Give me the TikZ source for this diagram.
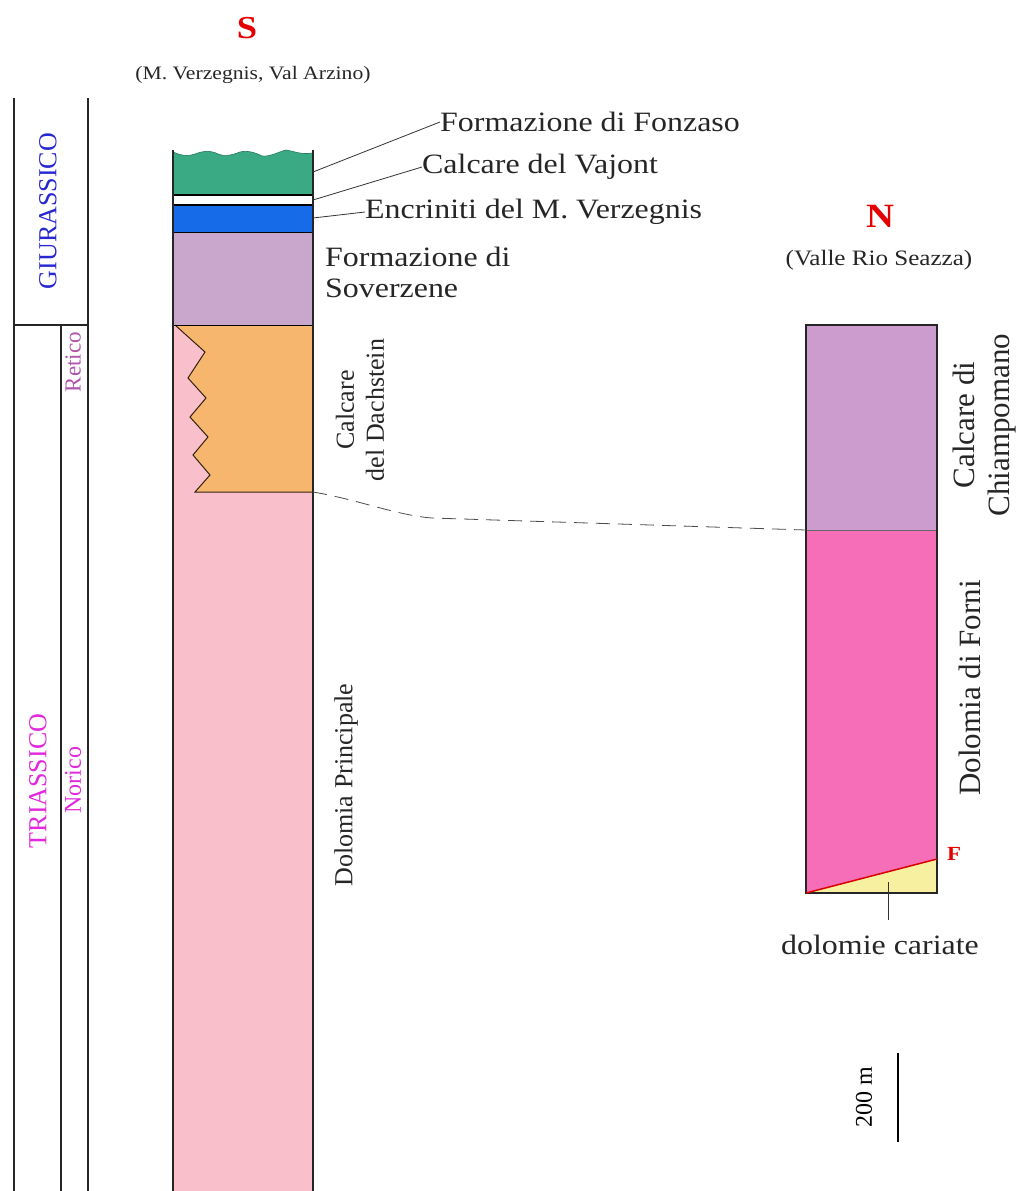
\documentclass[tikz,border=0pt]{standalone}
\usepackage{fontspec}
\setmainfont[FakeStretch=1.14]{Liberation Serif}
\newfontfamily\rotfont{Liberation Serif}
\begin{document}
\begin{tikzpicture}[x=1pt,y=-1pt,
  lab/.style={inner sep=0pt,font=\fontsize{28}{31}\selectfont,text=black!85},
  rlab/.style={inner sep=0pt,rotate=90,text=black!85},
  era/.style={inner sep=0pt,rotate=90},
  hdr/.style={inner sep=0pt,text=red!90!black},
  sub/.style={inner sep=0pt,font=\fontsize{19}{21}\selectfont,text=black!85},
  col/.style={line width=1.2pt,draw=black!85},
  lead/.style={line width=0.8pt,draw=black!80}]
\definecolor{cgreen}{RGB}{58,170,132}
\definecolor{cblue}{RGB}{22,108,232}
\definecolor{cmauve}{RGB}{201,166,203}
\definecolor{corange}{RGB}{247,182,110}
\definecolor{cpink}{RGB}{249,192,204}
\definecolor{npurple}{RGB}{203,156,205}
\definecolor{nhot}{RGB}{245,110,183}
\definecolor{cyel}{RGB}{247,240,160}
\definecolor{cgiu}{RGB}{40,40,210}
\definecolor{ctri}{RGB}{225,40,220}
\useasboundingbox[fill=white] (0,0) rectangle (1023,1191);
% time column
\draw[col] (14,98) -- (14,1191);
\draw[col] (88,98) -- (88,1191);
\draw[col] (61,325) -- (61,1191);
\draw[col] (14,325) -- (88,325);
\node[era,text=cgiu,font=\rotfont\fontsize{26}{28}\selectfont] (giu) at (48,211) {GIURASSICO};
\node[era,text=ctri,font=\rotfont\fontsize{26}{28}\selectfont] (tri) at (38,781) {TRIASSICO};
\node[era,text=ctri,font=\rotfont\fontsize{24}{26}\selectfont] (nor) at (73,780) {Norico};
\node[era,text=ctri!50!gray,font=\rotfont\fontsize{23}{25}\selectfont] (ret) at (73,362) {Retico};
% S column
\fill[cpink] (173,325) rectangle (313,1191);
\fill[cgreen] (173,195) -- (173,152) .. controls (180,155) and (186,157) .. (195,154)
  .. controls (203,151) and (210,150) .. (218,154) .. controls (226,157) and (232,155) .. (240,152)
  .. controls (248,150) and (256,153) .. (262,156) .. controls (270,157) and (278,152) .. (286,150)
  .. controls (294,151) and (300,155) .. (313,153) -- (313,195) -- cycle;
\draw[line width=0.6pt,draw=cgreen!70!black] (173,152) .. controls (180,155) and (186,157) .. (195,154)
  .. controls (203,151) and (210,150) .. (218,154) .. controls (226,157) and (232,155) .. (240,152)
  .. controls (248,150) and (256,153) .. (262,156) .. controls (270,157) and (278,152) .. (286,150)
  .. controls (294,151) and (300,155) .. (313,153);
\fill[cblue] (173,205) rectangle (313,232);
\fill[cmauve] (173,232) rectangle (313,325);
\fill[corange] (175,325) -- (313,325) -- (313,492) -- (195,492) -- (210,475) -- (193,455)
  -- (208,437) -- (190,417) -- (206,398) -- (188,378) -- (205,352) -- cycle;
\draw[line width=1pt,draw=black!75!brown] (313,492) -- (195,492) -- (210,475) -- (193,455)
  -- (208,437) -- (190,417) -- (206,398) -- (188,378) -- (205,352) -- (175,325);
\draw[line width=2pt] (173,195) -- (313,195);
\draw[line width=2pt] (173,205) -- (313,205);
\draw[line width=1pt] (173,232) -- (313,232);
\draw[line width=1pt] (173,325) -- (313,325);
\draw[col] (173,150) -- (173,1191);
\draw[col] (313,150) -- (313,1191);
\coordinate (sfonz) at (313,172);
\coordinate (svaj) at (313,200);
\coordinate (senc) at (313,218);
\coordinate (sdach) at (313,492);
% S labels
\node[hdr,font=\fontsize{32}{34}\selectfont\bfseries] (S) at (247,28) {S};
\node[sub] (Ssub) at (253,75) {(M. Verzegnis, Val Arzino)};
\node[lab,anchor=west] (fonz) at (440,122) {Formazione di Fonzaso};
\node[lab,anchor=west] (vaj) at (422,167) {Calcare del Vajont};
\node[lab,anchor=west] (enc) at (365,212) {Encriniti del M. Verzegnis};
\node[lab,anchor=west,align=left] (sov) at (325,272) {Formazione di\\Soverzene};
\node[rlab,align=center,font=\rotfont\fontsize{26}{30}\selectfont] (dach) at (360,410) {Calcare\\del Dachstein};
\node[rlab,font=\rotfont\fontsize{26}{28}\selectfont] (dpr) at (346,785) {Dolomia Principale};
\draw[lead] (sfonz) -- (fonz.west);
\draw[lead] (svaj) -- (vaj.west);
\draw[lead] (senc) -- (enc.west);
% N column
\fill[npurple] (806,325) rectangle (937,530);
\fill[nhot] (806,530) rectangle (937,893);
\fill[cyel] (806,893) -- (937,859) -- (937,893) -- cycle;
\draw[line width=0.6pt,draw=black!60] (806,530) -- (937,530);
\draw[col] (806,325) rectangle (937,893);
\coordinate (fl) at (806,893);
\coordinate (fr) at (937,859);
\draw[line width=1.5pt,red!85!black] (fl) -- (fr);
\node[hdr,font=\fontsize{34}{36}\selectfont\bfseries] (N) at (880,216) {N};
\node[sub,font=\fontsize{22}{24}\selectfont] (Nsub) at (879,260) {(Valle Rio Seazza)};
\node[hdr,font=\fontsize{20}{22}\selectfont\bfseries] (F) at (954,854) {F};
\node[lab] (dcar) at (880,945) {dolomie cariate};
\coordinate (dct) at (888,882);
\coordinate (dcb) at (888,920);
\draw[lead] (dct) -- (dcb);
\node[rlab,align=center,font=\rotfont\fontsize{31}{35}\selectfont] (chi) at (985,425) {Calcare di\\Chiampomano};
\node[rlab,font=\rotfont\fontsize{31}{33}\selectfont] (forni) at (970,688) {Dolomia di Forni};
\coordinate (ntop) at (806,530);
% correlation
\draw[line width=0.8pt,black!70,dash pattern=on 14pt off 8pt] (sdach) .. controls (360,500) and (395,515) .. (432,518) -- (ntop);
% scale bar
\coordinate (sb1) at (898,1053);
\coordinate (sb2) at (898,1142);
\draw[line width=2.5pt] (sb1) -- (sb2);
\node[inner sep=0pt,rotate=90,font=\rotfont\fontsize{24}{26}\selectfont] (sbl) at (864,1097) {200 m};
\end{tikzpicture}
\end{document}
